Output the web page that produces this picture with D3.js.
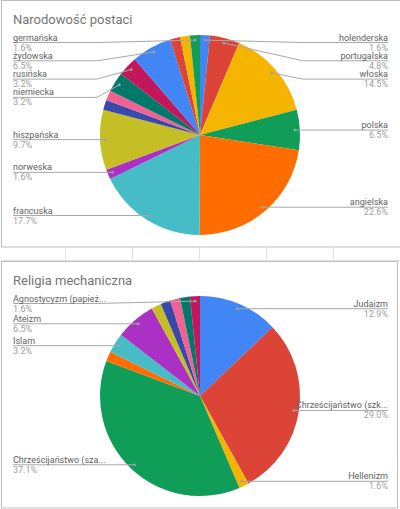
<!DOCTYPE html>
<html><head><meta charset="utf-8">
<script src="https://cdn.jsdelivr.net/npm/d3@7"></script>
<style>body{margin:0;background:#fff}svg{display:block}</style>
</head><body>
<script>
// ---- data ----
const natTitle = "Narodowość postaci";
const natLabels = ["holenderska","portugalska","włoska","polska","angielska","francuska","norweska","hiszpańska","","","niemiecka","rusińska","żydowska","","","germańska"];
const natValues = [1.6,4.8,14.5,6.5,22.6,17.7,1.6,9.7,1.6,1.6,3.2,3.2,6.5,1.6,1.6,1.6];

const relTitle = "Religia mechaniczna";
const relLabels = ["Judaizm","Chrześcijaństwo (szk...","Hellenizm","Chrześcijaństwo (sza...","","Islam","Ateizm","","","","","Agnostycyzm (papież..."];
const relValues = [12.9,29.0,1.6,37.1,1.6,3.2,6.5,1.6,1.6,1.6,1.6,1.6];

const palette = ["#4285F4","#DB4437","#F4B400","#0F9D58","#FF6D00","#46BDC6","#AB30C4","#C5BE25","#3949AB","#F06292","#00796B","#C2185B"];

// ---- layout ----
const W = 400, H = 509;
const svg = d3.select("body").append("svg").attr("width", W).attr("height", H);

// spreadsheet cell strip between charts
const cellXs = [65,132,199,266,333];
svg.selectAll("line.cell").data(cellXs).enter().append("line")
  .attr("x1", d => d + 0.5).attr("x2", d => d + 0.5).attr("y1", 247).attr("y2", 261)
  .attr("stroke", "#e2e2e2");
svg.append("line").attr("x1",0).attr("x2",W).attr("y1",260.5).attr("y2",260.5).attr("stroke","#e2e2e2");

function drawChart(top, title, labels, values, frameRight) {
  const g = svg.append("g").attr("transform", `translate(0,${top})`);
  // frame
  const fh = 247;
  g.append("rect").attr("x", 1.5).attr("y", 0.5)
    .attr("width", frameRight - 1.5).attr("height", fh - 0.5)
    .attr("fill", "#fff").attr("stroke", "#bdbdbd");
  g.append("text").attr("x", 13).attr("y", 23.8)
    .attr("font-family", "Roboto").attr("font-size", 13).attr("fill", "#757575")
    .text(title);

  const cx = 200, cy = 135, r = 100;
  const pie = d3.pie().sort(null).value(d => d);
  const arcs = pie(values);
  const arc = d3.arc().innerRadius(0).outerRadius(r);
  const pg = g.append("g").attr("transform", `translate(${cx},${cy})`);
  pg.selectAll("path").data(arcs).enter().append("path")
    .attr("d", arc).attr("fill", (d, i) => palette[i % palette.length]);

  // labels
  const items = arcs.map((a, i) => {
    const m = (a.startAngle + a.endAngle) / 2;
    return { i, label: labels[i], value: values[i], m,
      dx: Math.sin(m) * r * 0.95, dy: -Math.cos(m) * r * 0.95 };
  }).filter(d => d.label);
  const minY = -92.5, gap = 18.3;
  ["left", "right"].forEach(side => {
    const s = items.filter(d => side === "right" ? d.dx >= 0 : d.dx < 0)
      .sort((a, b) => a.dy - b.dy);
    let prev = -Infinity;
    s.forEach(d => {
      d.ly = Math.max(d.dy, minY, prev + gap);
      prev = d.ly;
      d.side = side;
    });
  });
  const lg = g.append("g").attr("transform", `translate(${cx},${cy})`);
  items.forEach(d => {
    const right = d.side === "right";
    const tx = right ? 388 - cx : 13 - cx;
    const knee = right ? 103 : -103;
    const pts = [[tx, d.ly]];
    if (Math.abs(d.ly - d.dy) > 0.5) pts.push([knee, d.ly]);
    pts.push([d.dx, d.dy]);
    lg.append("path").attr("d", d3.line()(pts))
      .attr("fill", "none").attr("stroke", "#a8a8a8").attr("stroke-width", 1);
    lg.append("circle").attr("cx", d.dx).attr("cy", d.dy).attr("r", 1.5)
      .attr("fill", "#a0a0a0").attr("opacity", 0.9);
    lg.append("text").attr("x", tx).attr("y", d.ly - 2)
      .attr("text-anchor", right ? "end" : "start")
      .attr("font-family", "Roboto").attr("font-size", 9).attr("fill", "#616161")
      .text(d.label);
    lg.append("text").attr("x", tx).attr("y", d.ly + 8)
      .attr("text-anchor", right ? "end" : "start")
      .attr("font-family", "Roboto").attr("font-size", 9).attr("fill", "#9e9e9e")
      .text(d.value.toFixed(1) + "%");
  });
}

drawChart(0, natTitle, natLabels, natValues, 402);
drawChart(261, relTitle, relLabels, relValues, 397.5);
</script>
</body></html>
